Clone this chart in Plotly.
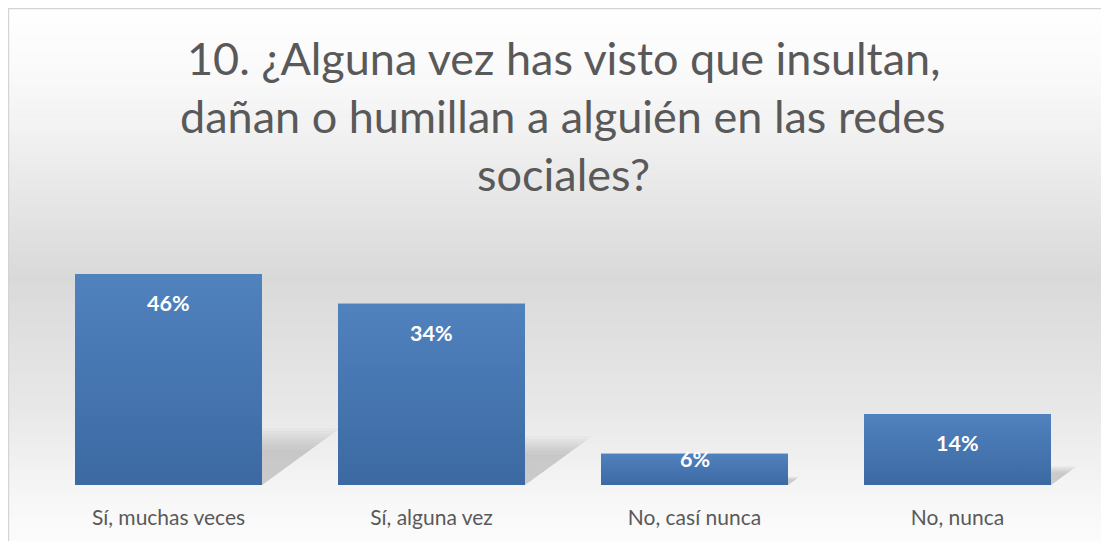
import plotly.graph_objects as go

# ---- data ----
categories = ["Sí, muchas veces", "Sí, alguna vez", "No, casí nunca", "No, nunca"]
bar_heights = [46, 39.5, 6.8, 15.5]          # bar heights as drawn in the picture (percent scale)
pct_labels = ["46%", "34%", "6%", "14%"]      # data labels printed on the bars
title_lines = ["10. ¿Alguna vez has visto que insultan,",
               "dañan o humillan a alguién en las redes",
               "sociales?"]

# ---- layout geometry (page body has an 8px margin) ----
OFF = 8
W, H = 1101, 533
ML, MR, MT, MB = 29, 20, 222, 56
PW, PH = W - ML - MR, H - MT - MB
YMAX = 55.6
px_per_unit = PH / YMAX
px_per_cat = PW / 4.0
BARGAP = 0.289
half_w = (1 - BARGAP) / 2
BAR_TOP_COLOR = "rgb(80,130,190)"
BAR_BOT_COLOR = "rgb(60,105,162)"

def xp(px):   # window pixel -> paper
    return (px - OFF - ML) / PW

def yp(py):
    return (H - MB - (py - OFF)) / PH

fig = go.Figure()

xs = list(range(len(categories)))
fig.add_trace(go.Bar(
    x=xs, y=bar_heights,
    marker=dict(color="#4675b1", line=dict(width=0)),
    hoverinfo="skip",
))

# vertical gradient on each bar
for i, v in enumerate(bar_heights):
    xl, xr = i - half_w, i + half_w
    fig.add_trace(go.Scatter(
        x=[xl, xr, xr, xl, xl], y=[0, 0, v, v, 0],
        mode="lines", line=dict(width=0), fill="toself",
        fillgradient=dict(type="vertical", start=0, stop=v,
                          colorscale=[[0, BAR_BOT_COLOR], [1, BAR_TOP_COLOR]]),
        hoverinfo="skip",
    ))

shapes = []
# background gradient (white -> light gray -> white)
stops = [(0.0, 255), (0.12, 250), (0.25, 240), (0.5, 217), (0.75, 232), (0.9, 246), (1.0, 252)]
top_px, bot_px = 5, 546
n = 90
for i in range(n):
    t0, t1 = i / n, (i + 1) / n
    tm = (t0 + t1) / 2
    for (a, ca), (b, cb) in zip(stops[:-1], stops[1:]):
        if a <= tm <= b:
            c = ca + (cb - ca) * (tm - a) / (b - a)
            break
    c = int(round(c))
    y0 = top_px + (bot_px - top_px) * t0
    y1 = top_px + (bot_px - top_px) * t1 + 0.6
    shapes.append(dict(type="rect", xref="paper", yref="paper", layer="below",
                       x0=xp(8), x1=xp(1109), y0=yp(y1), y1=yp(max(y0, 8)),
                       fillcolor=f"rgb({c},{c},{c})", line=dict(width=0)))
# chart border
shapes.append(dict(type="rect", xref="paper", yref="paper", layer="below",
                   x0=xp(8.6), x1=xp(1107.5), y0=yp(546), y1=yp(8.6),
                   fillcolor="rgba(0,0,0,0)", line=dict(color="#d4d4d4", width=1.2)))

# soft perspective shadows behind bars
for i, v in enumerate(bar_heights):
    h_px = v * px_per_unit
    dx = 0.33 * h_px / px_per_cat
    dy = 0.24 * v
    xl, xr = i - half_w, i + half_w
    for k in [1.12, 1.06, 1.0, 0.95, 0.9, 0.84, 0.78, 0.7]:
        path = (f"M {xl},0 L {xr},0 L {xr + dx * k},{dy * k} "
                f"L {xl + dx * k},{dy * k} Z")
        shapes.append(dict(type="path", xref="x", yref="y", layer="below",
                           path=path, fillcolor="rgba(110,110,110,0.045)",
                           line=dict(width=0)))

annotations = []
title_y = [58, 116, 174]
for line, ty in zip(title_lines, title_y):
    annotations.append(dict(text=line, xref="paper", yref="paper", x=0.5, y=yp(ty),
                            xanchor="center", yanchor="middle", showarrow=False,
                            font=dict(family="Lato", size=45, color="#595959")))

for i, (v, lab) in enumerate(zip(bar_heights, pct_labels)):
    h_px = v * px_per_unit
    off = min(29, h_px - 26)
    annotations.append(dict(text=f"<b>{lab}</b>", x=i, y=v, xref="x", yref="y",
                            yanchor="middle", xanchor="center", yshift=-off,
                            showarrow=False,
                            font=dict(family="Lato", size=21.5, color="white")))

fig.update_layout(
    width=W, height=H,
    margin=dict(l=ML, r=MR, t=MT, b=MB),
    paper_bgcolor="white", plot_bgcolor="rgba(0,0,0,0)",
    bargap=BARGAP, showlegend=False,
    shapes=shapes, annotations=annotations,
    xaxis=dict(tickmode="array", tickvals=xs,
               ticktext=categories, range=[-0.5, 3.5], showgrid=False,
               zeroline=False, showline=False, ticks="",
               ticklabelstandoff=18,
               tickfont=dict(family="Lato", size=21, color="#595959")),
    yaxis=dict(range=[0, YMAX], visible=False, showgrid=False, zeroline=False),
)

fig.write_html("out.html")
